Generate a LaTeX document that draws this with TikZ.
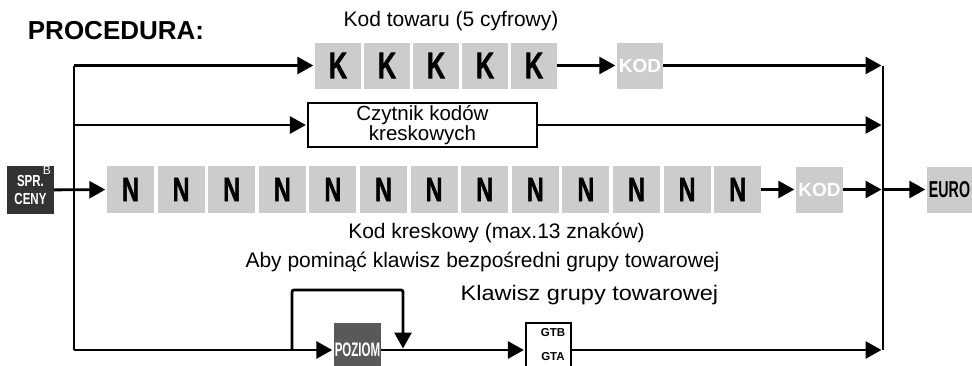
\documentclass[tikz,border=0pt]{standalone}
\usepackage{fontspec}
\setmainfont{Liberation Sans}
\newfontfamily\heavyfont[FakeBold=1.6]{Liberation Sans Bold}
\usepackage{graphicx}
\usetikzlibrary{arrows.meta}

\newcommand{\condtext}[2][0.7]{\scalebox{#1}[1]{#2}}

\begin{document}
\begin{tikzpicture}[x=1pt, y=-1pt,
  rail/.style={line width=2.8pt},
  arr/.style={line width=2.8pt, -{Triangle[length=16pt, width=17pt]}, shorten >=1.5pt},
  keybox/.style={fill=black!20, inner sep=0pt, minimum width=46pt, minimum height=46pt},
  txt/.style={font=\fontsize{21}{24}\selectfont}]

\useasboundingbox (0,0) rectangle (972,365);
\clip (0,0) rectangle (972,365);

% === TITLE ===
\node[font=\bfseries\fontsize{26}{30}\selectfont] (title) at (116,31) {PROCEDURA:};

% === RAILS ===
\coordinate (lt) at (74,65.5);
\coordinate (l2) at (74,125);
\coordinate (lb) at (74,350);
\coordinate (r1) at (883,65.5);
\coordinate (r2) at (883,125);
\coordinate (r3) at (883,189.5);
\coordinate (rb) at (883,350);
\draw[rail] (lt) -- (lb);
\draw[rail] (r1) -- (rb);

% === ROW 1: Kod towaru ===
\node[txt] (kodlab) at (451,21) {Kod towaru (5 cyfrowy)};
\foreach \i in {1,...,5} {
  \pgfmathsetmacro{\x}{338 + (\i-1)*49}
  \node[keybox, font=\heavyfont\fontsize{37}{40}\selectfont] (k\i) at (\x,65.5) {\condtext[0.68]{K}};
}
\node[keybox, text=white, font=\bfseries\fontsize{19}{20}\selectfont] (kod1) at (640,65.5) {KOD};
\draw[arr] (lt) -- (k1);
\draw[arr] (k5) -- (kod1);
\draw[arr] (kod1) -- (r1);

% === ROW 2: Czytnik ===
\node[draw, line width=1.2pt, minimum width=229pt, minimum height=44pt, inner sep=0pt, align=center,
  font=\fontsize{20.5}{20.5}\selectfont] (czyt) at (422.5,125) {Czytnik kodów\\kreskowych};
\draw[arr] (l2) -- (czyt);
\draw[arr] (czyt) -- (r2);

% === ROW 3: Kod kreskowy ===
\node[fill=black!80, text=white, inner sep=0pt, minimum width=47pt, minimum height=48pt, align=center,
  font=\bfseries\fontsize{16}{18}\selectfont] (spr) at (30.5,190) {\condtext[0.72]{SPR.}\\\condtext[0.72]{CENY}};
\node[text=white, inner sep=0pt, font=\fontsize{12}{12}\selectfont] (sprb) at (47,170) {B};
\foreach \i in {1,...,13} {
  \pgfmathsetmacro{\x}{130.5 + (\i-1)*50.6}
  \node[keybox, minimum width=47pt, minimum height=47pt, font=\heavyfont\fontsize{33.5}{36}\selectfont] (n\i) at (\x,189.5) {\condtext[0.7]{N}};
}
\node[keybox, minimum width=47pt, text=white, font=\bfseries\fontsize{19}{20}\selectfont] (kod2) at (819.5,189.5) {KOD};
\node[keybox, minimum width=45pt, font=\fontsize{23}{24}\selectfont] (euro) at (949.5,189.5) {\condtext[0.62]{\textbf{EURO}}};
\node[txt] (kreslab) at (496.5,233) {Kod kreskowy (max.13 znaków)};
\draw[arr] (spr) -- (n1);
\draw[arr] (n13) -- (kod2);
\draw[arr] (kod2) -- (r3);
\draw[arr] (r3) -- (euro);

% === ROW 4: Grupa towarowa ===
\node[txt] (abylab) at (482.5,262) {Aby pominąć klawisz bezpośredni grupy towarowej};
\node[txt] (klawlab) at (589.5,295) {\scalebox{1.12}[1]{Klawisz grupy towarowej}};
\node[fill=black!65, text=white, inner sep=0pt, minimum width=47pt, minimum height=54pt,
  font=\bfseries\fontsize{19.5}{20}\selectfont] (poziom) at (357.5,350) {\condtext[0.59]{POZIOM}};
\node[draw, fill=white, line width=1.2pt, inner sep=0pt, minimum width=45pt, minimum height=54pt] (gtb) at (548.5,350) {};
\node[font=\bfseries\fontsize{11.5}{12}\selectfont] (gtbt) at (553,333) {GTB};
\node[font=\bfseries\fontsize{11.5}{12}\selectfont] (gtat) at (553,357) {GTA};
\coordinate (lpa) at (292,350);
\coordinate (lpb) at (403,350);
\draw[arr] (lb) -- (poziom);
\draw[arr] (poziom) -- (gtb);
\draw[arr] (gtb) -- (rb);
\draw[arr, rounded corners=2pt] (lpa) -- ++(0,-60) -| (lpb);

\end{tikzpicture}
\end{document}
